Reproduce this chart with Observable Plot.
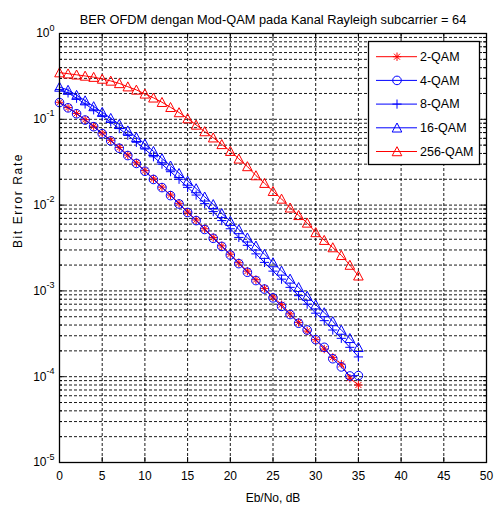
<!DOCTYPE html>
<html><head><meta charset="utf-8">
<script src="https://cdn.jsdelivr.net/npm/d3@7"></script>
<script src="https://cdn.jsdelivr.net/npm/@observablehq/plot@0.6"></script>
<style>
body{margin:0;background:#fff;}
#chart svg{font-family:"Liberation Sans",Arial,sans-serif;background:#fff;}
</style></head><body><div id="chart"></div>
<script>
const ebno = [0,1,2,3,4,5,6,7,8,9,10,11,12,13,14,15,16,17,18,19,20,21,22,23,24,25,26,27,28,29,30,31,32,33,34,35];
const ber2qam = [0.158,0.137,0.117,0.099,0.083,0.069,0.057,0.047,0.0383,0.0311,0.0252,0.0202,0.0162,0.0131,0.0105,0.0083,0.0067,0.0053,0.0042,0.00335,0.00268,0.00213,0.0017,0.00135,0.00107,0.00085,0.00069,0.00054,0.00043,0.00034,0.00027,0.00021,0.000168,0.00014,0.000096,0.00008];
const ber4qam = [0.157,0.136,0.116,0.098,0.082,0.068,0.056,0.046,0.0378,0.0306,0.0248,0.0199,0.016,0.0129,0.0103,0.0082,0.0066,0.0052,0.0041,0.0033,0.00262,0.00208,0.00165,0.00132,0.00105,0.00083,0.00066,0.00053,0.00042,0.00035,0.00027,0.00022,0.000162,0.00013,0.000102,0.000103];
const ber8qam = [0.222,0.203,0.176,0.151,0.129,0.11,0.093,0.078,0.065,0.054,0.045,0.0366,0.03,0.0245,0.02,0.0161,0.0131,0.0104,0.0084,0.0066,0.0053,0.0042,0.0034,0.0027,0.00215,0.0017,0.00137,0.0011,0.00088,0.0007,0.00055,0.00045,0.00035,0.00028,0.00022,0.00017];
const ber16qam = [0.238,0.219,0.191,0.165,0.141,0.121,0.103,0.0874,0.0737,0.0616,0.0516,0.0424,0.0349,0.0287,0.0235,0.0191,0.0156,0.0125,0.0102,0.008,0.0065,0.0052,0.00416,0.00335,0.00268,0.00214,0.00171,0.00138,0.0011,0.00087,0.00069,0.00056,0.00044,0.00035,0.00028,0.00022];
const ber256qam = [0.35,0.34,0.33,0.32,0.31,0.295,0.28,0.262,0.24,0.22,0.198,0.178,0.158,0.138,0.12,0.102,0.086,0.072,0.061,0.051,0.0425,0.0346,0.0282,0.0221,0.018,0.0145,0.0118,0.0093,0.0076,0.0062,0.0048,0.0039,0.0032,0.0026,0.002,0.0015];

const seriesNames = ["2-QAM","4-QAM","8-QAM","16-QAM","256-QAM"];
const seriesColors = ["#ff0000","#0000ff","#0000ff","#0000ff","#ff0000"];
const xTicks = [0,5,10,15,20,25,30,35,40,45,50];
const yTicks = [1e-5,1e-4,1e-3,1e-2,1e-1,1];
const titleText = "BER OFDM dengan Mod-QAM pada Kanal Rayleigh subcarrier = 64";
const xLabel = "Eb/No, dB";
const yLabel = "Bit Error Rate";

const W = 497, H = 510, mL = 59, mR = 11, mT = 33, mB = 48;
const fw = W - mL - mR, fh = H - mT - mB;

const yMinor = [];
yTicks.slice(0, -1).forEach(k => { for (let m = 2; m <= 9; m++) yMinor.push(m * k); });

const rOf = s => Math.sqrt(s / Math.PI);
const symStar = {draw(c, s) {const r = rOf(s), d = r * 0.72;
  c.moveTo(-r, 0); c.lineTo(r, 0); c.moveTo(0, -r); c.lineTo(0, r);
  c.moveTo(-d, -d); c.lineTo(d, d); c.moveTo(-d, d); c.lineTo(d, -d);}};
const symPlus = {draw(c, s) {const r = rOf(s);
  c.moveTo(-r, 0); c.lineTo(r, 0); c.moveTo(0, -r); c.lineTo(0, r);}};
const symTri = {draw(c, s) {const r = rOf(s);
  c.moveTo(0, -r); c.lineTo(r, 0.88 * r); c.lineTo(-r, 0.88 * r); c.closePath();}};
const symCircle = {draw(c, s) {const r = rOf(s); c.moveTo(r, 0); c.arc(0, 0, r, 0, 2 * Math.PI);}};
const seriesSymbols = [symStar, symCircle, symPlus, symTri, symTri];
const seriesR = [4.2, 4.3, 4.6, 4.8, 4.8];
const seriesData = [ber2qam, ber4qam, ber8qam, ber16qam, ber256qam];

const rows = seriesData.map(arr => ebno.map((x, i) => ({x, y: arr[i]})));

const gridStyle = {stroke: "#000", strokeOpacity: 0.9, strokeWidth: 1, strokeDasharray: "3,2"};

const marks = [
  Plot.ruleY(yMinor, {y: d => d, ...gridStyle}),
  Plot.ruleY(yTicks, {y: d => d, ...gridStyle}),
  Plot.ruleX(xTicks, {x: d => d, ...gridStyle}),
];
rows.forEach((data, i) => {
  marks.push(Plot.line(data, {x: "x", y: "y", stroke: seriesColors[i], strokeWidth: 1}));
  marks.push(Plot.dot(data, {x: "x", y: "y", symbol: seriesSymbols[i], r: seriesR[i], stroke: seriesColors[i], fill: "none", strokeWidth: 1}));
});
marks.push(
  Plot.ruleX(xTicks, {x: d => d, insetTop: fh - 5, stroke: "#000"}),
  Plot.ruleX(xTicks, {x: d => d, insetBottom: fh - 5, stroke: "#000"}),
  Plot.ruleY(yTicks, {y: d => d, insetRight: fw - 5, stroke: "#000"}),
  Plot.ruleY(yTicks, {y: d => d, insetLeft: fw - 5, stroke: "#000"}),
  Plot.ruleY(yMinor, {y: d => d, insetRight: fw - 3, stroke: "#000"}),
  Plot.ruleY(yMinor, {y: d => d, insetLeft: fw - 3, stroke: "#000"}),
  Plot.frame({stroke: "#000", strokeWidth: 1.3}),
  Plot.axisX(xTicks, {tickSize: 0, tickPadding: 9, fontSize: 12, label: null, tickFormat: d => String(d)}),
  Plot.axisY(yTicks, {tickSize: 0, tickPadding: 5, fontSize: 12, label: null, tickFormat: d => "10^" + Math.round(Math.log10(d))}),
  Plot.text([titleText], {frameAnchor: "top", dy: -19, fontSize: 12.8, fill: "#000"}),
  Plot.text([xLabel], {frameAnchor: "bottom", dy: 39, fontSize: 12, fill: "#000"}),
  Plot.text([yLabel], {frameAnchor: "left", dx: -41, rotate: -90, fontSize: 12, fill: "#000"})
);

const chart = Plot.plot({
  width: W, height: H,
  marginLeft: mL, marginRight: mR, marginTop: mT, marginBottom: mB,
  style: {fontFamily: "'Liberation Sans', Arial, sans-serif", fontSize: "12px", color: "#000", background: "#fff"},
  x: {domain: [0, 50]},
  y: {type: "log", domain: [1e-5, 1]},
  marks
});
document.getElementById("chart").appendChild(chart);

const svg = d3.select(chart.tagName.toLowerCase() === "svg" ? chart : chart.querySelector("svg"));
svg.selectAll('g[aria-label="y-axis tick label"] text').each(function() {
  const t = d3.select(this);
  const parts = t.text().split("^");
  t.text(null);
  t.append("tspan").text(parts[0]);
  t.append("tspan").attr("dy", "-0.75em").attr("font-size", "9px").text(parts[1]);
});
svg.selectAll('text').filter(function() { return this.textContent === yLabel; }).attr("letter-spacing", "1.6px");

const lg = svg.append("g").attr("font-size", 12.5).attr("text-anchor", "start")
  .attr("font-family", "'Liberation Sans', Arial, sans-serif");
lg.append("rect").attr("x", 368.5).attr("y", 41.5).attr("width", 111).attr("height", 123)
  .attr("fill", "#fff").attr("stroke", "#000").attr("stroke-width", 1.3);
seriesNames.forEach((name, i) => {
  const y = 56.7 + i * 23.7;
  lg.append("line").attr("x1", 376).attr("x2", 417).attr("y1", y).attr("y2", y)
    .attr("stroke", seriesColors[i]).attr("stroke-width", 1);
  lg.append("path").attr("transform", `translate(397,${y})`)
    .attr("d", d3.symbol().type(seriesSymbols[i]).size(Math.PI * seriesR[i] * seriesR[i])())
    .attr("fill", "none").attr("stroke", seriesColors[i]).attr("stroke-width", 1);
  lg.append("text").attr("x", 420).attr("y", y).attr("dy", "0.35em").attr("text-anchor", "start")
    .attr("fill", "#000").text(name);
});
</script></body></html>
